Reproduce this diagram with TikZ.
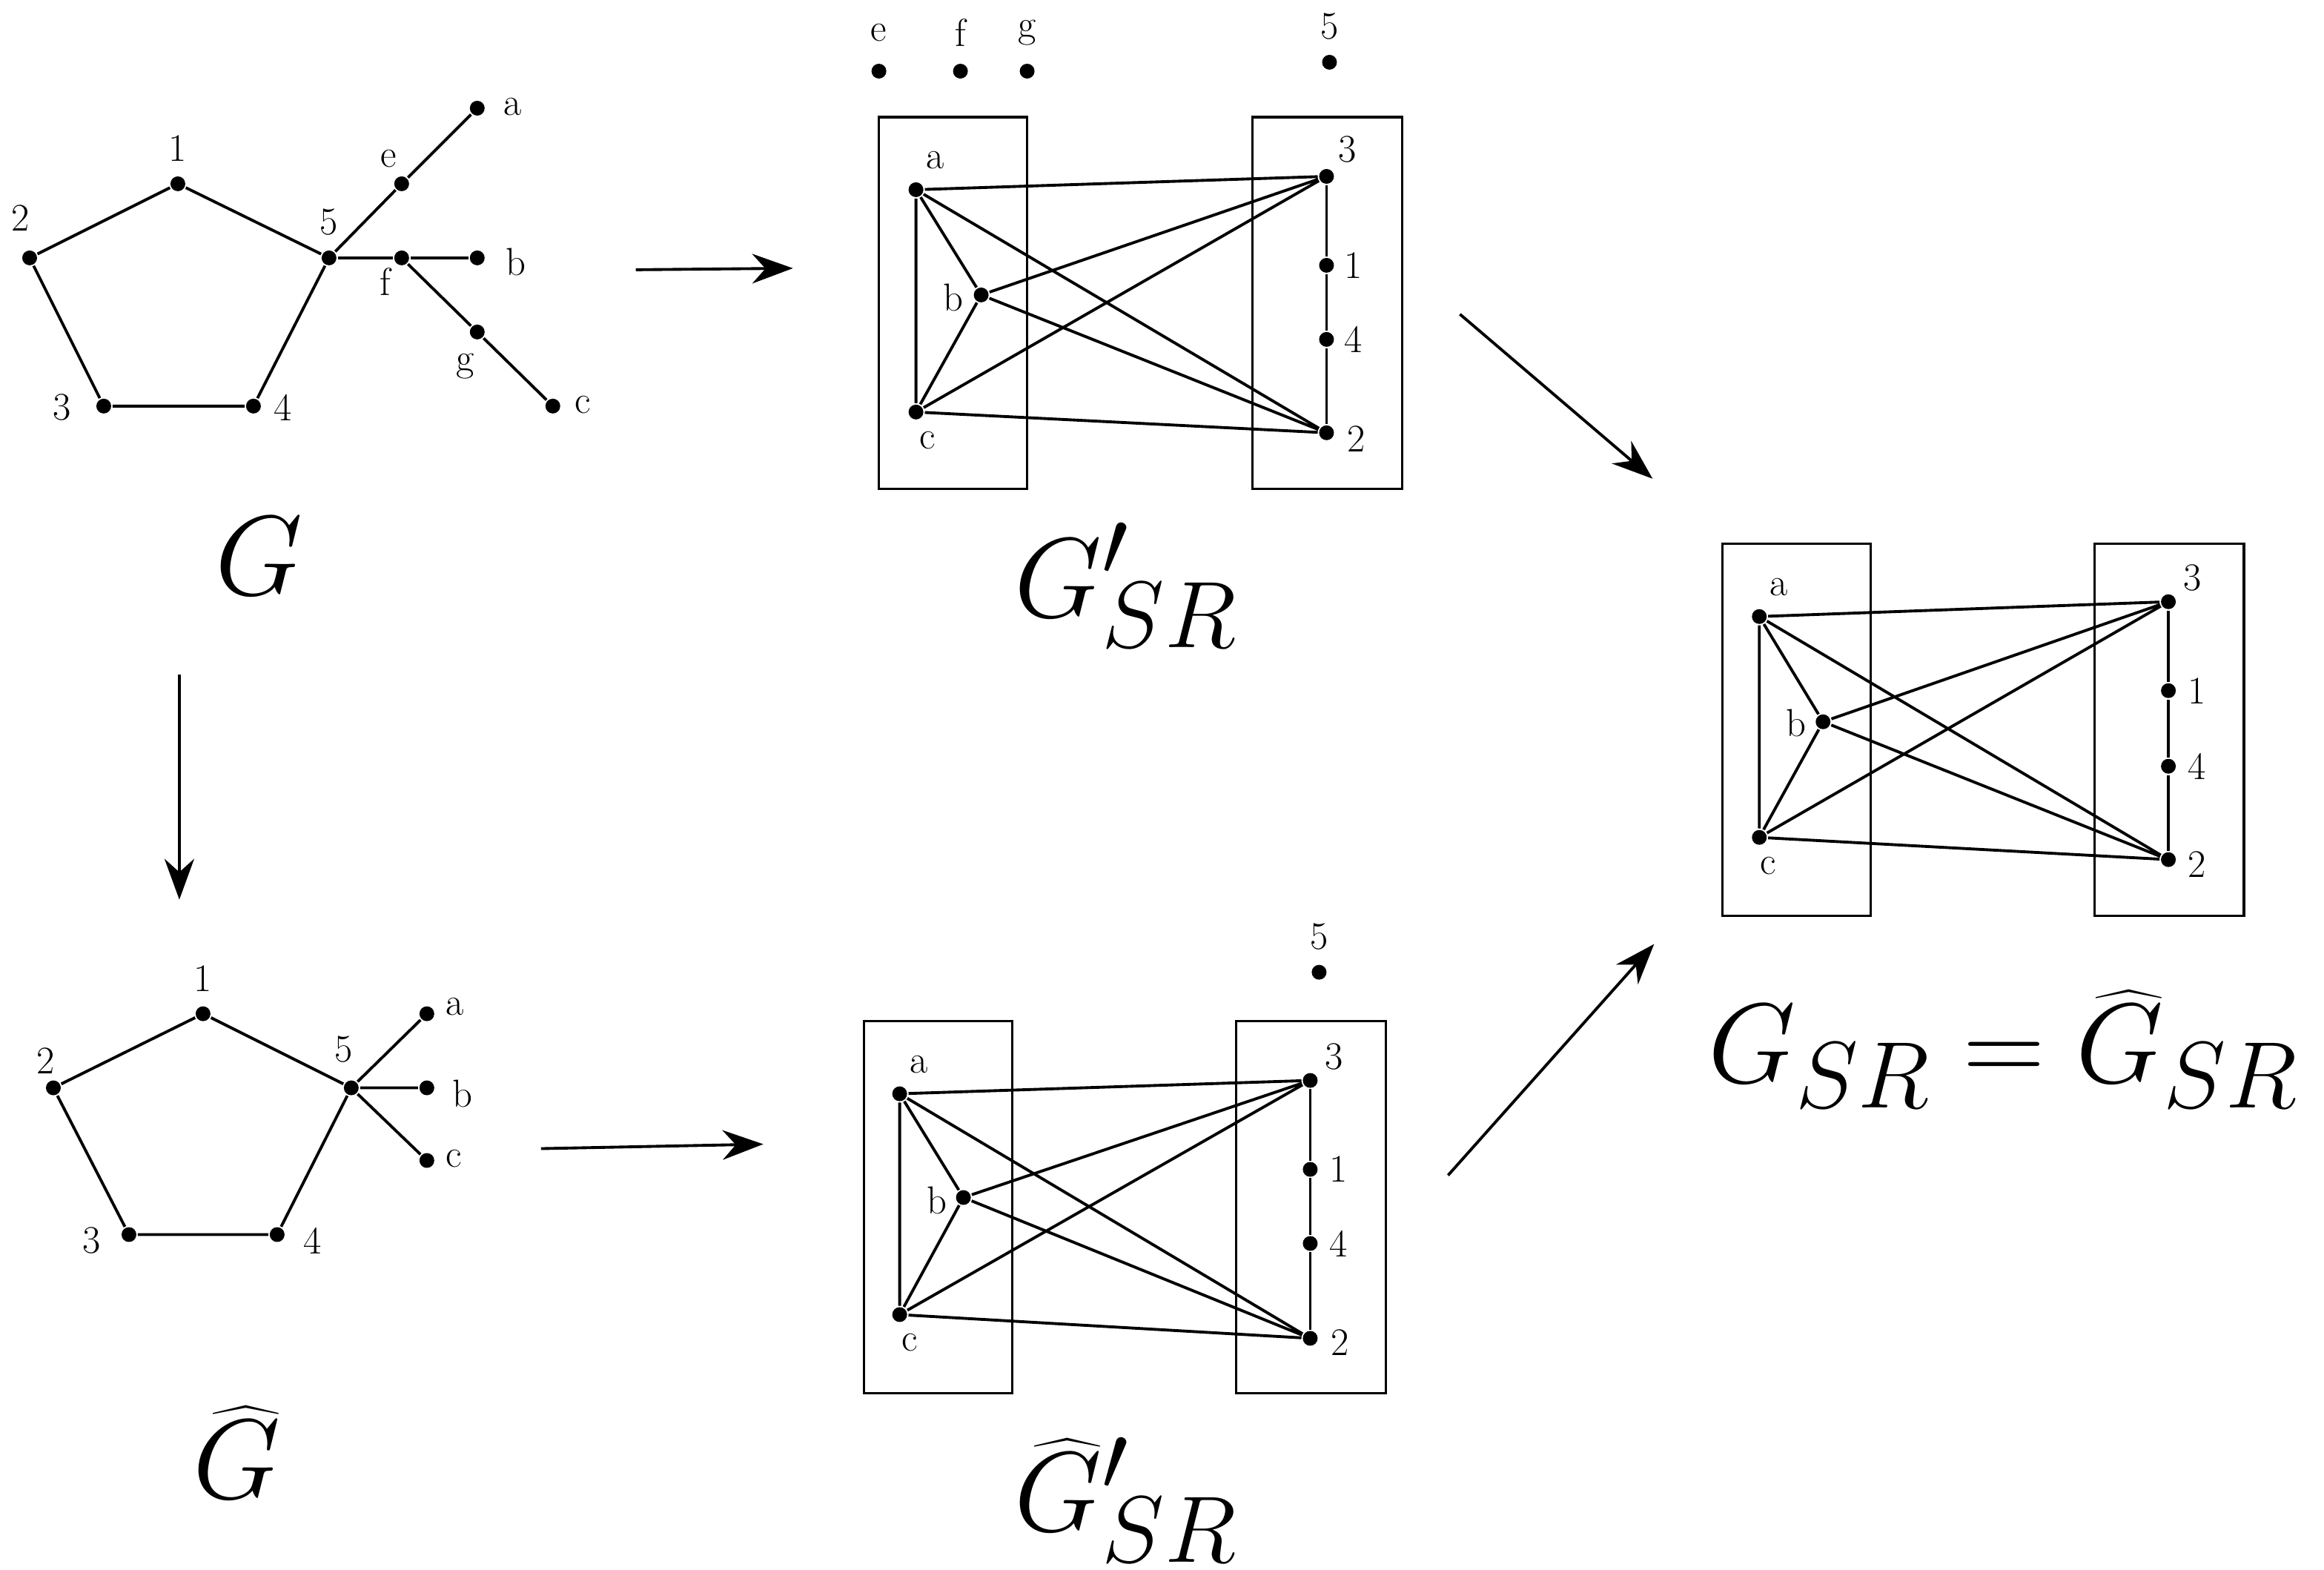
\documentclass[tikz,border=0pt]{standalone}
\usetikzlibrary{arrows.meta}
\begin{document}
\begin{tikzpicture}[x=0.02cm,y=-0.02cm,line width=1.1pt,
  v/.style={circle,fill=black,inner sep=0pt,minimum size=0.2cm},
  lb/.style={inner sep=0pt,font=\fontsize{15}{18}\selectfont},
  big/.style={inner sep=0pt,font=\Huge,scale=1.75},
  arr/.style={-{Stealth[length=0.55cm,width=0.4cm]}},
  box/.style={draw,line width=0.9pt}]
\useasboundingbox (0,0) rectangle (1568,1059);
% G
\foreach \n/\x/\y in {g1/120/124,g2/20/174,g3/70/274,g4/171/274,g5/222/174,ge/271/124,ga/322/73,gf/271/174,gb/322/174,gg/322/224,gc/373/274}
  \node[v] (\n) at (\x,\y) {};
\draw (g1)--(g2)--(g3)--(g4)--(g5)--(g1);
\draw (g5)--(ge)--(ga); \draw (g5)--(gf)--(gb); \draw (gf)--(gg)--(gc);
\foreach \t/\x/\y in {1/120/100,2/14/147,5/222/150,e/262/107,a/346/72,f/260/190,b/348/177,g/314/247,c/393/273,3/42/275,4/191/275}
  \node[lb] (lg\t) at (\x,\y) {\t};
\node[big] (LG) at (175,375) {$G$};
% arrow
\coordinate (A1s) at (429,182); \coordinate (A1e) at (535,181);
\draw[arr] (A1s)--(A1e);
% G'_SR
\foreach \n/\x/\y in {pe/593/48,pf/648/48,pg/693/48,p5/897/42,pa/618/128,pb/662/199,pc/618/278,p3/895/119,p1/895/179,p4/895/229,p2/895/292}
  \node[v] (\n) at (\x,\y) {};
\node[box,minimum width=2cm,minimum height=5.02cm] (pL) at (643,204.5) {};
\node[box,minimum width=2.02cm,minimum height=5.02cm] (pR) at (895.5,204.5) {};
\draw (pa)--(pb)--(pc)--(pa); \draw (pa)--(p3) (pa)--(p2) (pb)--(p3) (pb)--(p2) (pc)--(p3) (pc)--(p2);
\draw (p3)--(p1)--(p4)--(p2);
\foreach \t/\x/\y in {e/593/22,f/648/22,g/693/22,5/897/18,a/631/108,b/643/201,c/626/297,3/909/101,1/913/179,4/913/229,2/915/296}
  \node[lb] (lp\t) at (\x,\y) {\t};
\node[big] (LP) at (760,395) {$G'_{SR}$};
\coordinate (A2s) at (985,212); \coordinate (A2e) at (1115,323);
\draw[arr] (A2s)--(A2e);
% G_SR
\foreach \n/\x/\y in {ra/1187/416,rb/1230/487,rc/1187/565,r3/1463/406,r1/1463/466,r4/1463/517,r2/1463/580}
  \node[v] (\n) at (\x,\y) {};
\node[box,minimum width=2cm,minimum height=5.02cm] (rL) at (1212,492.5) {};
\node[box,minimum width=2.02cm,minimum height=5.02cm] (rR) at (1463.5,492.5) {};
\draw (ra)--(rb)--(rc)--(ra); \draw (ra)--(r3) (ra)--(r2) (rb)--(r3) (rb)--(r2) (rc)--(r3) (rc)--(r2);
\draw (r3)--(r1)--(r4)--(r2);
\foreach \t/\x/\y in {a/1200/396,b/1212/488,c/1193/584,3/1479/390,1/1482/466,4/1482/517,2/1482/583}
  \node[lb] (lr\t) at (\x,\y) {\t};
\node[big] (LR) at (1352,708) {$G_{SR}=\widehat{G}_{SR}$};
% down arrow
\coordinate (A3s) at (121,455); \coordinate (A3e) at (121,607);
\draw[arr] (A3s)--(A3e);
% G hat
\foreach \n/\x/\y in {h1/137/684,h2/36/734,h3/87/833,h4/187/833,h5/237/734,ha/288/684,hb/288/734,hc/288/783}
  \node[v] (\n) at (\x,\y) {};
\draw (h1)--(h2)--(h3)--(h4)--(h5)--(h1);
\draw (h5)--(ha) (h5)--(hb) (h5)--(hc);
\foreach \t/\x/\y in {1/137/660,2/31/716,5/232/708,a/307/679,b/312/738,c/306/782,3/62/837,4/211/837}
  \node[lb] (lh\t) at (\x,\y) {\t};
\node[big] (LH) at (160,980) {$\widehat{G}$};
\coordinate (A4s) at (365,775); \coordinate (A4e) at (515,772);
\draw[arr] (A4s)--(A4e);
% G'_SR hat
\foreach \n/\x/\y in {q5/890/656,qa/607/738,qb/650/808,qc/607/887,q3/884/729,q1/884/789,q4/884/839,q2/884/903}
  \node[v] (\n) at (\x,\y) {};
\node[box,minimum width=2cm,minimum height=5.02cm] (qL) at (633,814.5) {};
\node[box,minimum width=2.02cm,minimum height=5.02cm] (qR) at (884.5,814.5) {};
\draw (qa)--(qb)--(qc)--(qa); \draw (qa)--(q3) (qa)--(q2) (qb)--(q3) (qb)--(q2) (qc)--(q3) (qc)--(q2);
\draw (q3)--(q1)--(q4)--(q2);
\foreach \t/\x/\y in {5/890/632,a/620/718,b/632/810,c/614/906,3/900/713,1/903/789,4/903/839,2/904/906}
  \node[lb] (lq\t) at (\x,\y) {\t};
\node[big] (LQ) at (760,1012) {$\widehat{G}'_{SR}$};
\coordinate (A5s) at (977,793); \coordinate (A5e) at (1116,637);
\draw[arr] (A5s)--(A5e);
\end{tikzpicture}
\end{document}
